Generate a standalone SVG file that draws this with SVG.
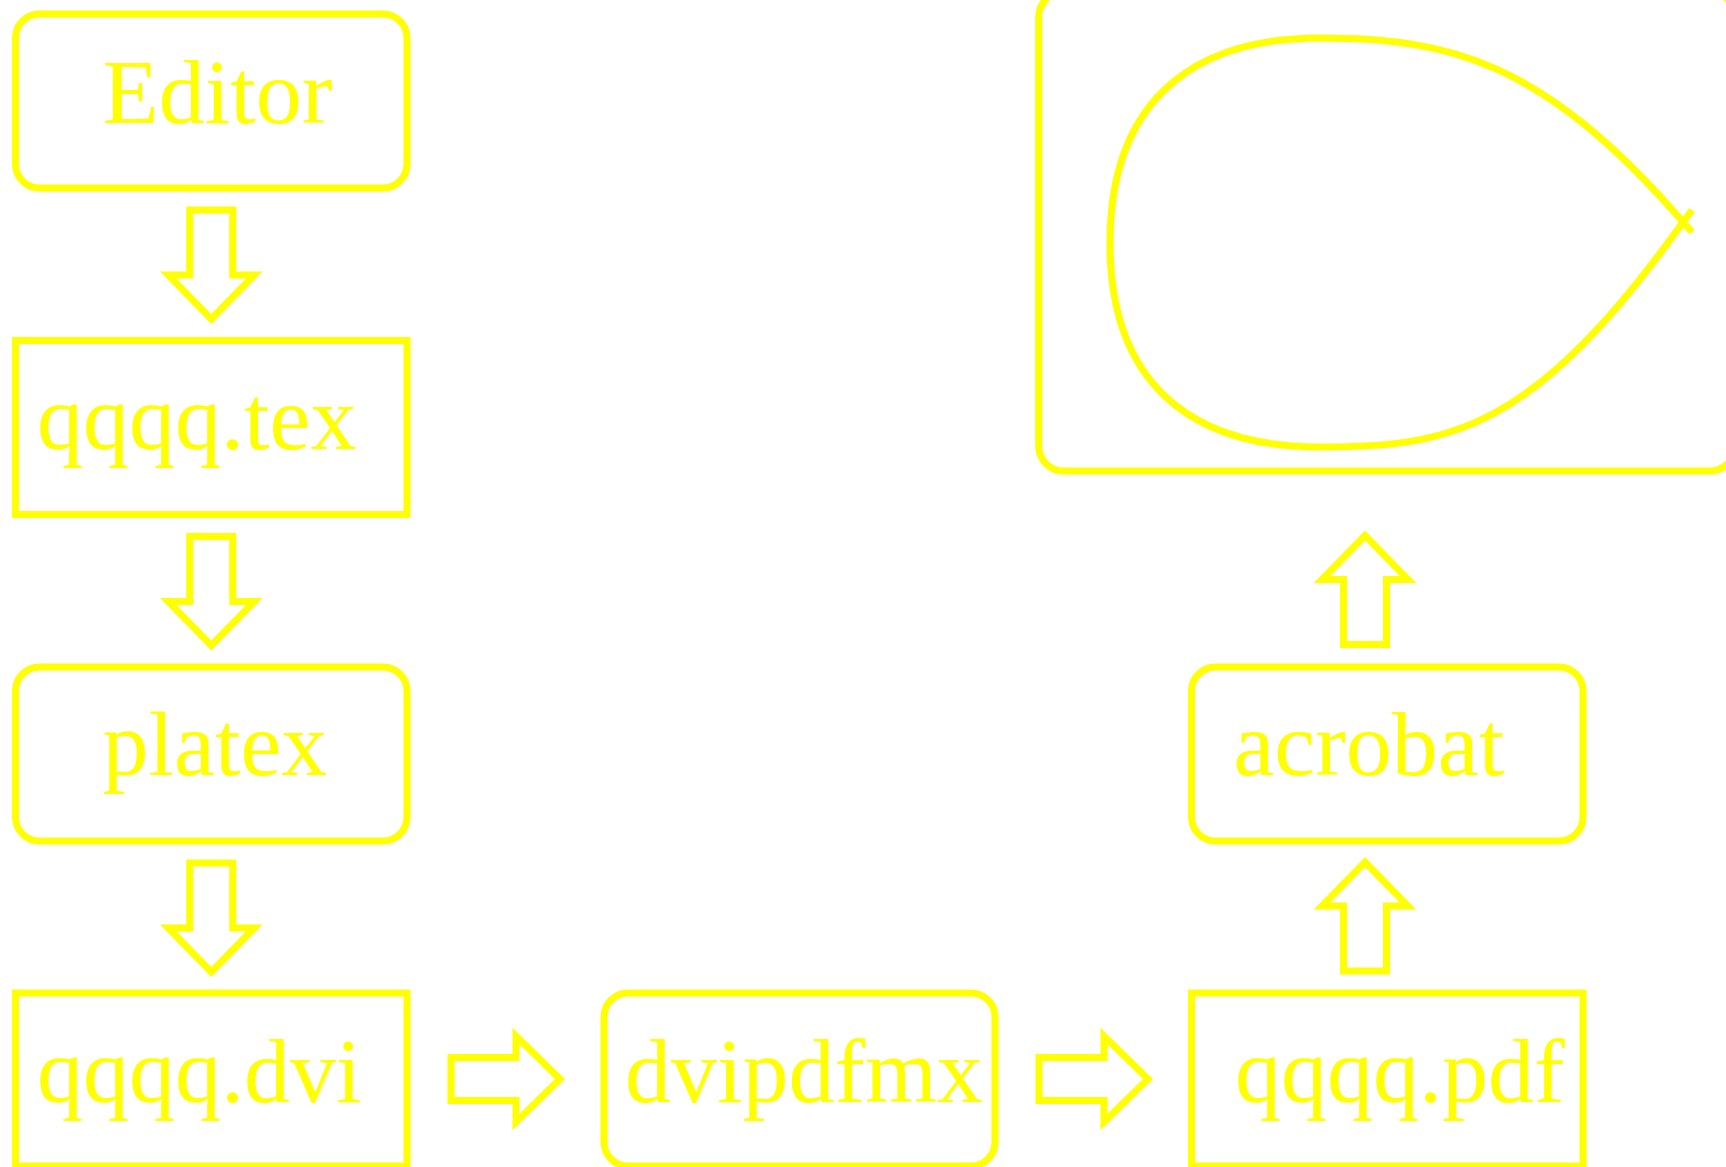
<svg xmlns="http://www.w3.org/2000/svg" xmlns:xlink="http://www.w3.org/1999/xlink" width="1726" height="1167" viewBox="0 0 1726 1167">
<style>
.box{fill:none;stroke:#ffff00;stroke-width:7}
.arr{fill:none;stroke:#ffff00;stroke-width:7;stroke-miterlimit:10}
.lbl{font-family:"Liberation Serif","Times New Roman",serif;font-size:92px;fill:#ffff00}
.curve{fill:none;stroke:#ffff00;stroke-width:7}
</style>
<defs>
<polygon id="blockArrow" class="arr" points="-21.5,0 21.5,0 21.5,65 43,65 0,109 -43,65 -21.5,65"/>
</defs>
<rect width="1726" height="1167" fill="#ffffff"/>
<g id="node-editor">
<rect class="box" x="15.5" y="14" width="391.5" height="174" rx="24"/>
<text class="lbl" x="102.5" y="122.5">Editor</text>
</g>
<g id="node-tex">
<rect class="box" x="15.5" y="340.5" width="391.5" height="174"/>
<text class="lbl" x="37" y="449">qqqq.tex</text>
</g>
<g id="node-platex">
<rect class="box" x="15.5" y="667" width="391.5" height="174" rx="24"/>
<text class="lbl" x="102.5" y="775">platex</text>
</g>
<g id="node-dvi">
<rect class="box" x="15.5" y="993" width="391.5" height="173"/>
<text class="lbl" x="37" y="1101.5">qqqq.dvi</text>
</g>
<g id="node-dvipdfmx">
<rect class="box" x="604" y="993" width="391" height="173" rx="24"/>
<text class="lbl" x="625" y="1101.5">dvipdfmx</text>
</g>
<g id="node-pdf">
<rect class="box" x="1191.5" y="993" width="391.5" height="173"/>
<text class="lbl" x="1235" y="1101.5">qqqq.pdf</text>
</g>
<g id="node-acrobat">
<rect class="box" x="1191.5" y="667" width="391.5" height="174" rx="24"/>
<text class="lbl" x="1233.5" y="775">acrobat</text>
</g>
<g id="node-view">
<rect class="box" x="1038.7" y="-8" width="696" height="479" rx="25"/>
<path class="curve" d="M1692 210 L1683 222 C1533 432 1450 447 1320 447 C1185 447 1110 378 1110 243 C1110 108 1185 38 1320 38 C1450 38 1543 61 1683 222 L1692 232"/>
</g>
<g id="connectors">
<use xlink:href="#blockArrow" href="#blockArrow" transform="translate(211.25,210)"/>
<use xlink:href="#blockArrow" href="#blockArrow" transform="translate(211.25,536.5)"/>
<use xlink:href="#blockArrow" href="#blockArrow" transform="translate(211.25,863)"/>
<use xlink:href="#blockArrow" href="#blockArrow" transform="translate(451,1079) rotate(-90)"/>
<use xlink:href="#blockArrow" href="#blockArrow" transform="translate(1039,1079) rotate(-90)"/>
<use xlink:href="#blockArrow" href="#blockArrow" transform="translate(1365,971) rotate(180)"/>
<use xlink:href="#blockArrow" href="#blockArrow" transform="translate(1365,644.5) rotate(180)"/>
</g>
</svg>
